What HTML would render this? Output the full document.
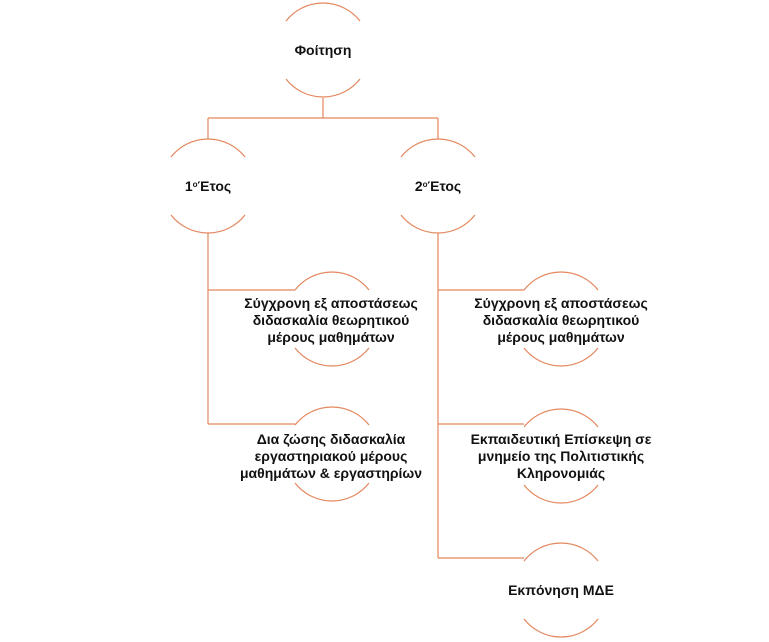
<!DOCTYPE html>
<html><head><meta charset="utf-8"><style>
html,body{margin:0;padding:0;background:#fff;width:769px;height:642px;overflow:hidden}
svg text{font-family:"Liberation Sans",sans-serif;font-weight:bold;font-size:14px;fill:#111;text-anchor:middle}
</style></head><body>
<svg width="769" height="642" viewBox="0 0 769 642" xmlns="http://www.w3.org/2000/svg">
<g fill="none" stroke="#e4875e" stroke-width="1.2">
<path d="M323 98 V118 M208 118 H438 M208 118 V139 M438 118 V139"/>
<path d="M208 233 V424 M208 290 H295 M208 424 H295"/>
<path d="M438 233 V558 M438 290 H524 M438 424 H524 M438 558 H524"/>
<path d="M286 21 A47 47 0 0 1 360 21 M286 79 A47 47 0 0 0 360 79"/>
<path d="M171 157 A47 47 0 0 1 245 157 M171 215 A47 47 0 0 0 245 215"/>
<path d="M401 157 A47 47 0 0 1 475 157 M401 215 A47 47 0 0 0 475 215"/>
<path d="M295 290 A47 47 0 0 1 369 290 M295 348 A47 47 0 0 0 369 348"/>
<path d="M295 425 A47 47 0 0 1 369 425 M295 483 A47 47 0 0 0 369 483"/>
<path d="M524 290 A47 47 0 0 1 598 290 M524 348 A47 47 0 0 0 598 348"/>
<path d="M524 427 A47 47 0 0 1 598 427 M524 485 A47 47 0 0 0 598 485"/>
<path d="M524 561 A47 47 0 0 1 598 561 M524 619 A47 47 0 0 0 598 619"/>
</g>
<text x="323" y="55">Φοίτηση</text>
<text x="208" y="191">1<tspan font-size="8" dy="-4">ο</tspan><tspan dy="4">Έτος</tspan></text>
<text x="438" y="191">2<tspan font-size="8" dy="-4">ο</tspan><tspan dy="4">Έτος</tspan></text>
<text x="331" y="308">Σύγχρονη εξ αποστάσεως</text>
<text x="331" y="325">διδασκαλία θεωρητικού</text>
<text x="331" y="342">μέρους μαθημάτων</text>
<text x="331" y="444">Δια ζώσης διδασκαλία</text>
<text x="331" y="461">εργαστηριακού μέρους</text>
<text x="331" y="478">μαθημάτων &amp; εργαστηρίων</text>
<text x="561" y="308">Σύγχρονη εξ αποστάσεως</text>
<text x="561" y="325">διδασκαλία θεωρητικού</text>
<text x="561" y="342">μέρους μαθημάτων</text>
<text x="561" y="444">Εκπαιδευτική Επίσκεψη σε</text>
<text x="561" y="461">μνημείο της Πολιτιστικής</text>
<text x="561" y="478">Κληρονομιάς</text>
<text x="561" y="595">Εκπόνηση ΜΔΕ</text>
</svg>
</body></html>
